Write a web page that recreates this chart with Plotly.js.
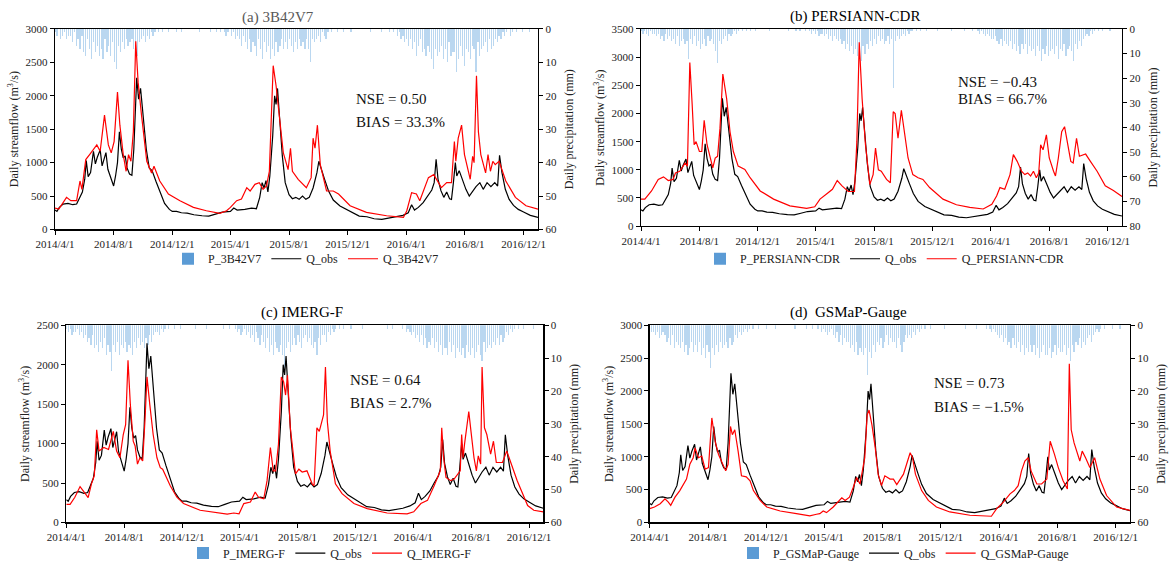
<!DOCTYPE html>
<html>
<head>
<meta charset="utf-8">
<script src="https://cdn.plot.ly/plotly-3.0.1.min.js"></script>
<style>
html,body{margin:0;padding:0;background:#fff;}
#chart{width:1172px;height:568px;}
</style>
</head>
<body>
<div id="chart"></div>
<script>
// ---------------- DATA ----------------
const xTickVals = ['2014-04-01','2014-08-01','2014-12-01','2015-04-01','2015-08-01','2015-12-01','2016-04-01','2016-08-01','2016-12-01'];
const xTickText = ['2014/4/1','2014/8/1','2014/12/1','2015/4/1','2015/8/1','2015/12/1','2016/4/1','2016/8/1','2016/12/1'];

// observed streamflow (m3/s)
const obsDates = ['2014-04-01','2014-04-05','2014-04-10','2014-04-18','2014-04-28','2014-05-08','2014-05-16','2014-05-22','2014-05-28','2014-06-02','2014-06-05','2014-06-09','2014-06-14','2014-06-20','2014-06-24','2014-06-28','2014-07-04','2014-07-08','2014-07-12','2014-07-16','2014-07-20','2014-07-26','2014-08-01','2014-08-05','2014-08-09','2014-08-13','2014-08-17','2014-08-21','2014-08-25','2014-08-29','2014-09-03','2014-09-08','2014-09-12','2014-09-18','2014-09-22','2014-09-26','2014-10-01','2014-10-08','2014-10-14','2014-10-20','2014-10-28','2014-11-05','2014-11-15','2014-11-25','2014-12-01','2014-12-10','2014-12-20','2015-01-01','2015-01-15','2015-02-01','2015-02-15','2015-03-01','2015-03-15','2015-04-01','2015-04-08','2015-04-15','2015-05-01','2015-05-15','2015-05-25','2015-06-01','2015-06-06','2015-06-10','2015-06-14','2015-06-18','2015-06-22','2015-06-28','2015-07-02','2015-07-05','2015-07-08','2015-07-12','2015-07-18','2015-07-24','2015-08-01','2015-08-08','2015-08-15','2015-08-22','2015-08-29','2015-09-05','2015-09-12','2015-09-20','2015-09-28','2015-10-02','2015-10-07','2015-10-14','2015-10-22','2015-11-01','2015-11-15','2015-12-01','2015-12-15','2015-12-25','2016-01-10','2016-01-25','2016-02-10','2016-02-25','2016-03-10','2016-03-25','2016-04-05','2016-04-12','2016-04-18','2016-04-26','2016-05-06','2016-05-15','2016-05-24','2016-05-29','2016-06-02','2016-06-06','2016-06-12','2016-06-18','2016-06-24','2016-06-30','2016-07-04','2016-07-08','2016-07-12','2016-07-15','2016-07-20','2016-07-26','2016-08-03','2016-08-10','2016-08-16','2016-08-24','2016-09-01','2016-09-08','2016-09-16','2016-09-24','2016-10-02','2016-10-08','2016-10-12','2016-10-17','2016-10-24','2016-11-01','2016-11-10','2016-11-20','2016-12-01','2016-12-15','2016-12-31'];
const obsValues = [290,270,330,380,390,370,380,470,560,760,1030,790,850,1170,980,1080,1190,950,1060,1150,900,760,650,800,1000,1460,1200,1070,1100,920,830,810,1200,2270,1950,2110,1700,1200,920,880,720,560,390,300,270,270,250,245,220,205,200,230,260,270,320,290,300,320,310,480,700,620,730,560,800,1400,2000,1870,2110,1700,1100,700,520,460,480,450,500,450,480,620,850,1020,900,750,580,440,350,290,230,200,190,160,150,170,180,210,250,370,290,330,400,500,590,700,1050,750,580,480,560,460,450,700,1000,800,880,760,600,500,560,640,700,600,700,640,700,650,1110,850,600,450,360,300,260,210,180];

// simulated streamflow, 3B42V7
const q3bDates = ['2014-04-01','2014-04-09','2014-04-25','2014-05-04','2014-05-16','2014-05-23','2014-05-27','2014-06-04','2014-06-12','2014-06-20','2014-06-27','2014-07-04','2014-07-13','2014-07-21','2014-07-27','2014-08-02','2014-08-09','2014-08-14','2014-08-21','2014-08-27','2014-09-01','2014-09-06','2014-09-11','2014-09-16','2014-09-21','2014-09-28','2014-10-09','2014-10-19','2014-10-24','2014-11-05','2014-11-23','2014-12-17','2015-01-14','2015-02-10','2015-03-10','2015-03-24','2015-04-01','2015-04-14','2015-04-24','2015-05-05','2015-05-12','2015-05-22','2015-05-31','2015-06-08','2015-06-15','2015-06-21','2015-06-26','2015-06-29','2015-07-05','2015-07-12','2015-07-20','2015-07-30','2015-08-04','2015-08-08','2015-08-20','2015-09-06','2015-09-16','2015-09-20','2015-09-24','2015-09-29','2015-10-05','2015-10-18','2015-11-01','2015-11-12','2015-12-06','2016-01-09','2016-02-20','2016-03-26','2016-04-02','2016-04-12','2016-04-22','2016-04-29','2016-05-10','2016-05-17','2016-05-28','2016-06-03','2016-06-13','2016-06-24','2016-07-04','2016-07-10','2016-07-13','2016-07-18','2016-07-25','2016-07-31','2016-08-12','2016-08-17','2016-08-20','2016-08-25','2016-08-29','2016-09-03','2016-09-13','2016-09-18','2016-09-23','2016-09-28','2016-10-03','2016-10-11','2016-10-25','2016-11-14','2016-12-06','2016-12-31'];
const q3bValues = [320,305,480,430,430,725,600,1045,1120,1200,1265,1170,1710,1265,1145,1315,2055,1560,1120,870,1120,1020,1460,2815,2200,1710,1020,845,945,725,530,430,330,280,240,280,330,430,455,625,575,675,700,600,650,870,1955,2450,2150,1660,1150,895,1215,870,750,625,775,1365,1215,1560,970,575,575,530,355,255,205,180,280,550,530,430,625,775,820,750,625,700,700,1315,1020,1365,1560,1120,750,1095,1000,2300,1460,1120,845,1120,870,1020,970,1020,725,480,355,305];

// simulated streamflow, PERSIANN-CDR
const qPerDates = ['2014-04-01','2014-04-09','2014-04-23','2014-05-07','2014-05-18','2014-05-28','2014-06-07','2014-06-12','2014-06-21','2014-07-02','2014-07-07','2014-07-12','2014-07-17','2014-07-21','2014-07-25','2014-08-01','2014-08-06','2014-08-11','2014-08-17','2014-08-23','2014-08-29','2014-09-03','2014-09-08','2014-09-13','2014-09-19','2014-09-27','2014-10-04','2014-10-11','2014-10-21','2014-11-04','2014-11-15','2014-12-06','2015-01-03','2015-02-06','2015-03-13','2015-03-30','2015-04-10','2015-04-25','2015-05-06','2015-05-16','2015-05-26','2015-06-08','2015-06-21','2015-06-26','2015-07-01','2015-07-07','2015-07-14','2015-07-23','2015-07-30','2015-08-04','2015-08-10','2015-08-16','2015-08-27','2015-09-04','2015-09-10','2015-09-14','2015-09-20','2015-09-27','2015-10-03','2015-10-11','2015-10-21','2015-11-01','2015-11-11','2015-11-25','2015-12-23','2016-01-20','2016-02-17','2016-03-16','2016-04-03','2016-04-13','2016-04-20','2016-04-30','2016-05-11','2016-05-18','2016-05-26','2016-06-04','2016-06-11','2016-06-17','2016-06-23','2016-06-29','2016-07-05','2016-07-10','2016-07-14','2016-07-19','2016-07-26','2016-08-01','2016-08-10','2016-08-14','2016-08-20','2016-08-27','2016-09-02','2016-09-08','2016-09-15','2016-09-20','2016-09-27','2016-10-03','2016-10-11','2016-10-16','2016-10-26','2016-11-09','2016-11-26','2016-12-13','2016-12-31'];
const qPerValues = [480,480,625,830,875,810,830,945,975,1120,1065,2905,2145,1445,1500,1325,1325,1880,1445,1210,1035,1210,1240,1735,2700,2260,1675,1325,1065,1005,860,625,480,360,315,345,480,580,655,810,715,615,615,1500,3265,2260,1445,740,915,1385,1000,975,830,770,2030,2000,1560,2055,1675,1210,915,860,830,685,480,380,335,305,390,535,685,655,915,1270,1150,975,915,945,890,975,860,945,1445,1355,1620,1210,975,890,1210,1675,1765,1500,1150,1120,1560,1240,1270,1280,1150,975,715,635,525];

// simulated streamflow, IMERG-F
const qImDates = ['2014-04-01','2014-04-09','2014-04-19','2014-04-30','2014-05-11','2014-05-17','2014-05-24','2014-05-30','2014-06-04','2014-06-09','2014-06-19','2014-06-29','2014-07-09','2014-07-16','2014-07-23','2014-07-30','2014-08-04','2014-08-09','2014-08-14','2014-08-20','2014-08-24','2014-08-29','2014-09-03','2014-09-09','2014-09-14','2014-09-18','2014-09-24','2014-10-01','2014-10-09','2014-10-16','2014-10-21','2014-10-26','2014-11-06','2014-11-20','2014-12-04','2015-01-08','2015-02-12','2015-03-06','2015-03-20','2015-03-31','2015-04-10','2015-04-24','2015-05-04','2015-05-11','2015-05-22','2015-05-29','2015-06-05','2015-06-11','2015-06-16','2015-06-22','2015-06-28','2015-07-03','2015-07-07','2015-07-11','2015-07-17','2015-07-24','2015-07-28','2015-08-04','2015-08-11','2015-08-21','2015-09-01','2015-09-05','2015-09-11','2015-09-16','2015-09-22','2015-09-25','2015-09-29','2015-10-03','2015-10-09','2015-10-20','2015-11-03','2015-11-28','2015-12-26','2016-02-06','2016-03-19','2016-04-02','2016-04-17','2016-05-01','2016-05-15','2016-05-28','2016-05-31','2016-06-04','2016-06-09','2016-06-19','2016-06-26','2016-07-03','2016-07-09','2016-07-12','2016-07-15','2016-07-18','2016-07-24','2016-07-27','2016-08-01','2016-08-07','2016-08-12','2016-08-16','2016-08-21','2016-08-24','2016-08-29','2016-09-03','2016-09-11','2016-09-17','2016-09-23','2016-10-06','2016-10-15','2016-10-22','2016-11-06','2016-11-28','2016-12-11','2016-12-31'];
const qImValues = [230,230,320,455,365,315,490,595,1175,905,950,925,1155,905,820,1115,1240,2055,1490,1030,970,740,820,780,1325,1845,1490,1115,820,695,675,615,465,320,240,155,120,105,120,110,240,260,385,320,300,530,950,655,655,990,1845,1780,1615,1865,1200,780,615,675,640,655,490,465,1200,1155,1325,1365,1970,1280,905,490,365,240,175,120,110,135,240,280,465,655,1200,820,570,530,550,615,655,1115,820,990,1325,1405,1135,820,655,845,740,1970,1200,1115,865,1030,760,760,905,780,530,215,155,135];

// simulated streamflow, GSMaP-Gauge
const qGsDates = ['2014-04-01','2014-04-11','2014-04-23','2014-05-03','2014-05-10','2014-05-15','2014-05-24','2014-06-03','2014-06-17','2014-06-24','2014-07-01','2014-07-05','2014-07-12','2014-07-19','2014-07-26','2014-08-02','2014-08-09','2014-08-16','2014-08-23','2014-08-30','2014-09-07','2014-09-12','2014-09-17','2014-09-21','2014-09-26','2014-10-03','2014-10-10','2014-10-20','2014-10-28','2014-11-04','2014-11-18','2014-12-02','2014-12-30','2015-02-02','2015-03-02','2015-03-16','2015-03-23','2015-03-30','2015-04-06','2015-04-20','2015-05-08','2015-05-15','2015-05-24','2015-06-01','2015-06-08','2015-06-15','2015-06-25','2015-06-30','2015-07-04','2015-07-10','2015-07-17','2015-07-23','2015-07-30','2015-08-06','2015-08-17','2015-08-24','2015-08-31','2015-09-14','2015-09-28','2015-10-03','2015-10-09','2015-10-22','2015-11-05','2015-11-22','2015-12-20','2016-01-31','2016-02-28','2016-03-16','2016-03-27','2016-04-10','2016-04-24','2016-05-03','2016-05-11','2016-05-18','2016-05-25','2016-06-01','2016-06-07','2016-06-19','2016-06-29','2016-07-10','2016-07-17','2016-07-21','2016-07-26','2016-08-03','2016-08-13','2016-08-22','2016-08-26','2016-08-30','2016-09-05','2016-09-17','2016-09-22','2016-09-29','2016-10-08','2016-10-18','2016-10-29','2016-11-12','2016-12-03','2016-12-16','2016-12-31'];
const qGsValues = [210,235,285,360,310,260,385,485,660,885,985,1135,985,1010,810,835,1590,1235,1035,910,785,885,1460,1335,1410,1085,710,695,635,485,335,235,175,135,100,125,135,175,150,235,375,335,385,535,685,585,985,1635,1710,1485,1135,735,560,710,660,660,575,735,1060,985,735,485,335,235,160,110,100,95,210,310,435,485,560,785,935,985,785,585,585,660,1235,1160,1035,835,635,510,2415,1410,1210,935,1085,985,835,985,660,410,235,210,185];

// daily precipitation (mm), sampled every 4 days from 2014-04-01
const precipStart = '2014-04-01';
const precipStepDays = 4;
const p3B42V7 = [
 1,2,0,3,2,1,3,2, 2,4,1,5,3,6,2,7, 8,3,6,9,4,7,5,8, 6,9,3,7,5,8,4,10,
 12,5,7,4,6,3,5,4, 3,6,5,8,4,3,2,4, 2,3,1,2,1,0,1,0, 1,0,0,1,0,0,0,1,
 0,0,1,0,0,0,0,0, 0,0,0,1,0,0,0,0, 0,1,0,0,1,0,1,0, 1,2,1,0,2,1,3,2,
 3,5,2,4,6,3,7,4, 5,8,3,6,9,4,7,5, 9,6,8,4,7,5,3,6, 4,6,3,5,7,4,6,3,
 5,4,6,3,6,10,3,4, 3,2,4,1,2,3,1,0, 1,0,0,1,0,0,1,0, 0,0,1,0,0,0,0,0,
 0,0,0,0,1,0,0,0, 0,0,1,0,0,0,1,0, 1,0,2,1,3,2,4,3, 5,3,6,4,8,5,3,7,
 6,8,5,7,9,12,6,8, 7,5,9,6,10,4,8,7, 7,13,9,5,8,11,6,7, 9,5,6,13,4,8,6,5,
 4,7,3,6,5,3,4,2, 3,1,2,1,0,2,1,0, 1,0,0,1,0,0,0,1, 0,0,0,0];
const pPersiann = [
 1,2,1,2,3,1,2,2, 3,2,4,3,5,2,4,3, 5,4,6,3,7,5,4,6, 5,12,4,6,3,7,5,8,
 6,4,7,3,5,4,6,9, 14,5,6,4,3,5,2,3, 2,1,2,1,0,1,0,1, 0,1,0,0,1,0,0,0,
 0,0,0,1,0,0,0,0, 0,0,0,0,0,1,0,0, 0,1,0,1,0,0,1,0, 1,2,1,2,1,3,2,2,
 3,2,4,3,5,3,4,5, 4,6,5,8,6,9,7,10, 8,11,9,13,7,10,6,8, 5,7,4,6,3,5,4,6,
 5,3,6,4,24,5,3,4, 3,2,3,1,2,1,1,0, 1,0,1,0,0,1,0,0, 0,0,0,1,0,0,0,0,
 0,0,1,0,0,0,0,0, 0,1,0,0,0,1,0,0, 1,2,1,2,3,2,3,4, 4,3,5,6,4,7,5,6,
 7,5,8,6,9,7,10,6, 8,6,10,7,9,8,11,7, 9,13,8,10,7,11,9,8, 10,7,12,8,9,6,11,8,
 7,9,13,6,8,5,7,4, 3,2,3,1,2,1,0,1, 0,1,0,0,0,1,0,0, 0,0,0,0];
const pImerg = [
 1,2,1,3,2,2,1,3, 2,4,3,5,4,6,3,7, 6,8,5,7,4,9,6,8, 14,6,8,5,9,6,7,5,
 8,6,7,9,5,7,4,6, 5,7,4,6,3,5,3,2, 2,3,1,2,1,0,1,0, 0,1,0,0,1,0,0,0,
 0,0,0,0,1,0,0,0, 0,0,1,0,0,0,0,0, 0,0,0,1,0,0,1,0, 0,1,2,1,3,2,1,3,
 2,4,3,5,2,4,6,3, 5,7,4,8,6,9,5,7, 8,6,9,13,7,5,8,6, 4,6,3,5,7,4,3,5,
 4,6,7,5,9,4,6,3, 3,5,2,3,1,2,1,0, 1,0,1,0,0,0,1,0, 0,0,0,0,1,0,0,0,
 0,0,0,0,0,0,0,0, 0,1,0,0,1,0,0,0, 0,1,0,2,1,2,3,2, 4,3,5,3,6,4,7,5,
 6,4,7,5,8,6,9,7, 7,9,5,8,6,10,7,8, 9,7,10,6,8,9,7,10, 8,6,9,11,5,8,7,6,
 7,5,6,4,6,3,5,4, 2,3,1,2,1,0,1,0, 0,1,0,0,0,0,1,0, 0,0,0,0];
const pGsmap = [
 1,2,2,3,2,4,3,2, 3,5,4,6,3,7,5,6, 7,5,8,6,9,7,5,8, 6,8,5,9,7,10,6,8,
 13,7,9,6,8,5,7,6, 5,7,4,6,5,3,4,2, 3,2,1,2,1,0,1,0, 0,1,0,0,0,1,0,0,
 0,0,1,0,0,0,0,0, 0,0,0,0,1,0,0,0, 0,0,1,0,0,1,0,0, 1,0,2,1,2,3,2,1,
 3,4,2,5,3,6,4,5, 5,7,6,8,5,9,7,8, 9,7,15,8,10,6,8,5, 6,4,7,5,3,6,4,5,
 5,7,4,6,8,5,3,4, 3,4,2,3,1,2,1,0, 1,0,0,1,0,0,0,0, 0,0,1,0,0,0,0,0,
 0,0,0,0,0,1,0,0, 0,0,0,1,0,0,0,0, 1,0,1,2,1,2,3,4, 3,5,4,6,5,7,4,6,
 7,5,8,6,9,7,8,6, 8,6,9,7,10,8,6,9, 9,7,10,8,6,9,7,8, 8,6,9,7,11,6,8,5,
 6,4,7,5,6,4,3,5, 3,2,1,2,1,0,1,0, 0,0,1,0,0,0,1,0, 0,0,0,0];

const panelTitles = ['(a) 3B42V7','(b) PERSIANN-CDR','(c) IMERG-F','(d)\u00a0 GSMaP-Gauge'];
const productNames = ['3B42V7','PERSIANN-CDR','IMERG-F','GSMaP-Gauge'];
const nseText = ['NSE = 0.50','NSE = \u22120.43','NSE = 0.64','NSE = 0.73'];
const biasText = ['BIAS = 33.3%','BIAS = 66.7%','BIAS = 2.7%','BIAS = \u22121.5%'];
const flowMax = [3000,3500,2500,3000];
const precipMax = [60,80,60,60];

// ---------------- BUILD ----------------
function buildDates(start, step, n){
  const out=[]; const t0=Date.parse(start+'T00:00:00Z');
  for(let i=0;i<n;i++){ out.push(new Date(t0+i*step*86400000).toISOString().slice(0,10)); }
  return out;
}
const precipSeries=[p3B42V7,pPersiann,pImerg,pGsmap];
const simDates=[q3bDates,qPerDates,qImDates,qGsDates];
const simValues=[q3bValues,qPerValues,qImValues,qGsValues];

const W=1172,H=568;
const FONT='"Liberation Serif","Times New Roman",serif';
// pixel boxes [left,right,top,bottom]
const boxes=[[55,538,29.3,232.3],[641,1122,29.3,229],[66.3,543.3,329.3,529],[649.7,1130,329.3,529]];
const titlePos=[[278,18,'#595959'],[855,17,'#000'],[302,316,'#000'],[848,316,'#000']];
const statPos=[[354,100,124],[956,83,100],[348,385,408],[932,388,412]];
const legendPos=[[168,262],[700,262],[183,560],[733,560]];

const traces=[]; const layout={
  width:W,height:H,margin:{l:0,r:0,t:0,b:0},paper_bgcolor:'#fff',plot_bgcolor:'#fff',
  font:{family:FONT,size:11,color:'#000'},showlegend:true,annotations:[],bargap:0
};
for(let i=0;i<4;i++){
  const n=i+1; const xa='x'+(n===1?'':n); const yP='y'+(2*i+1===1?'':(2*i+1)); const yQ='y'+(2*i+2);
  const xKey='xaxis'+(n===1?'':n); const yPKey='yaxis'+(2*i+1===1?'':(2*i+1)); const yQKey='yaxis'+(2*i+2);
  const legKey='legend'+(n===1?'':n);
  const b=boxes[i];
  const dx=[b[0]/W,b[1]/W], dy=[1-b[3]/H,1-b[2]/H];
  const pd=buildDates(precipStart,precipStepDays,precipSeries[i].length);
  // legend key for the precipitation bars (solid swatch, as in the reference legend)
  traces.push({type:'bar',x:[null],y:[null],xaxis:xa,yaxis:yP,name:'P_'+productNames[i],
    marker:{color:'#5b9bd5',line:{width:0}},legend:legKey,hoverinfo:'skip'});
  traces.push({type:'bar',x:pd,y:precipSeries[i],xaxis:xa,yaxis:yP,name:'P_'+productNames[i],showlegend:false,
    marker:{color:'rgba(140,188,230,0.6)',line:{width:0}},width:2.5*86400000,hoverinfo:'skip'});
  traces.push({type:'scatter',mode:'lines',x:obsDates,y:obsValues,xaxis:xa,yaxis:yQ,name:'Q_obs',
    line:{color:'#000',width:1.2},legend:legKey});
  traces.push({type:'scatter',mode:'lines',x:simDates[i],y:simValues[i],xaxis:xa,yaxis:yQ,name:'Q_'+productNames[i],
    line:{color:'#ff0000',width:1.2},legend:legKey});
  layout[xKey]={domain:dx,anchor:yP,type:'date',range:['2014-04-01','2016-12-31'],tickmode:'array',tickvals:xTickVals,ticktext:xTickText,
    showline:true,linecolor:'#000',linewidth:1.3,mirror:true,ticks:'outside',ticklen:4,tickcolor:'#000',showgrid:false,zeroline:false,
    tickfont:{family:FONT,size:11,color:'#222'},fixedrange:true};
  layout[yPKey]={domain:dy,anchor:xa,side:'right',range:[precipMax[i],0],dtick:10,tick0:0,showline:true,linecolor:'#000',linewidth:1.3,
    ticks:'outside',ticklen:4,tickcolor:'#000',showgrid:false,zeroline:false,tickfont:{family:FONT,size:11,color:'#222'},
    title:{text:'Daily precipitation (mm)',font:{family:FONT,size:12,color:'#222'},standoff:8}};
  layout[yQKey]={overlaying:yP,anchor:xa,side:'left',range:[0,flowMax[i]],dtick:500,showline:true,linecolor:'#000',linewidth:1.3,
    ticks:'outside',ticklen:4,tickcolor:'#000',showgrid:false,zeroline:false,tickfont:{family:FONT,size:11,color:'#222'},
    title:{text:'Daily streamflow (m<sup>3</sup>/s)',font:{family:FONT,size:12,color:'#222'},standoff:4}};
  layout[legKey]={orientation:'h',x:legendPos[i][0]/W,y:1-legendPos[i][1]/H,xanchor:'left',yanchor:'middle',
    font:{family:FONT,size:12,color:'#222'},bgcolor:'rgba(0,0,0,0)',itemwidth:30,tracegroupgap:0};
  const t=titlePos[i];
  layout.annotations.push({xref:'paper',yref:'paper',x:t[0]/W,y:1-t[1]/H,text:panelTitles[i],showarrow:false,
    xanchor:'center',yanchor:'middle',font:{family:FONT,size:15,color:t[2]}});
  const s=statPos[i];
  layout.annotations.push({xref:'paper',yref:'paper',x:s[0]/W,y:1-s[1]/H,text:nseText[i],showarrow:false,
    xanchor:'left',yanchor:'middle',font:{family:FONT,size:15,color:'#111'}});
  layout.annotations.push({xref:'paper',yref:'paper',x:s[0]/W,y:1-s[2]/H,text:biasText[i],showarrow:false,
    xanchor:'left',yanchor:'middle',font:{family:FONT,size:15,color:'#111'}});
}
Plotly.newPlot('chart',traces,layout,{displayModeBar:false,staticPlot:true});
</script>
</body>
</html>
